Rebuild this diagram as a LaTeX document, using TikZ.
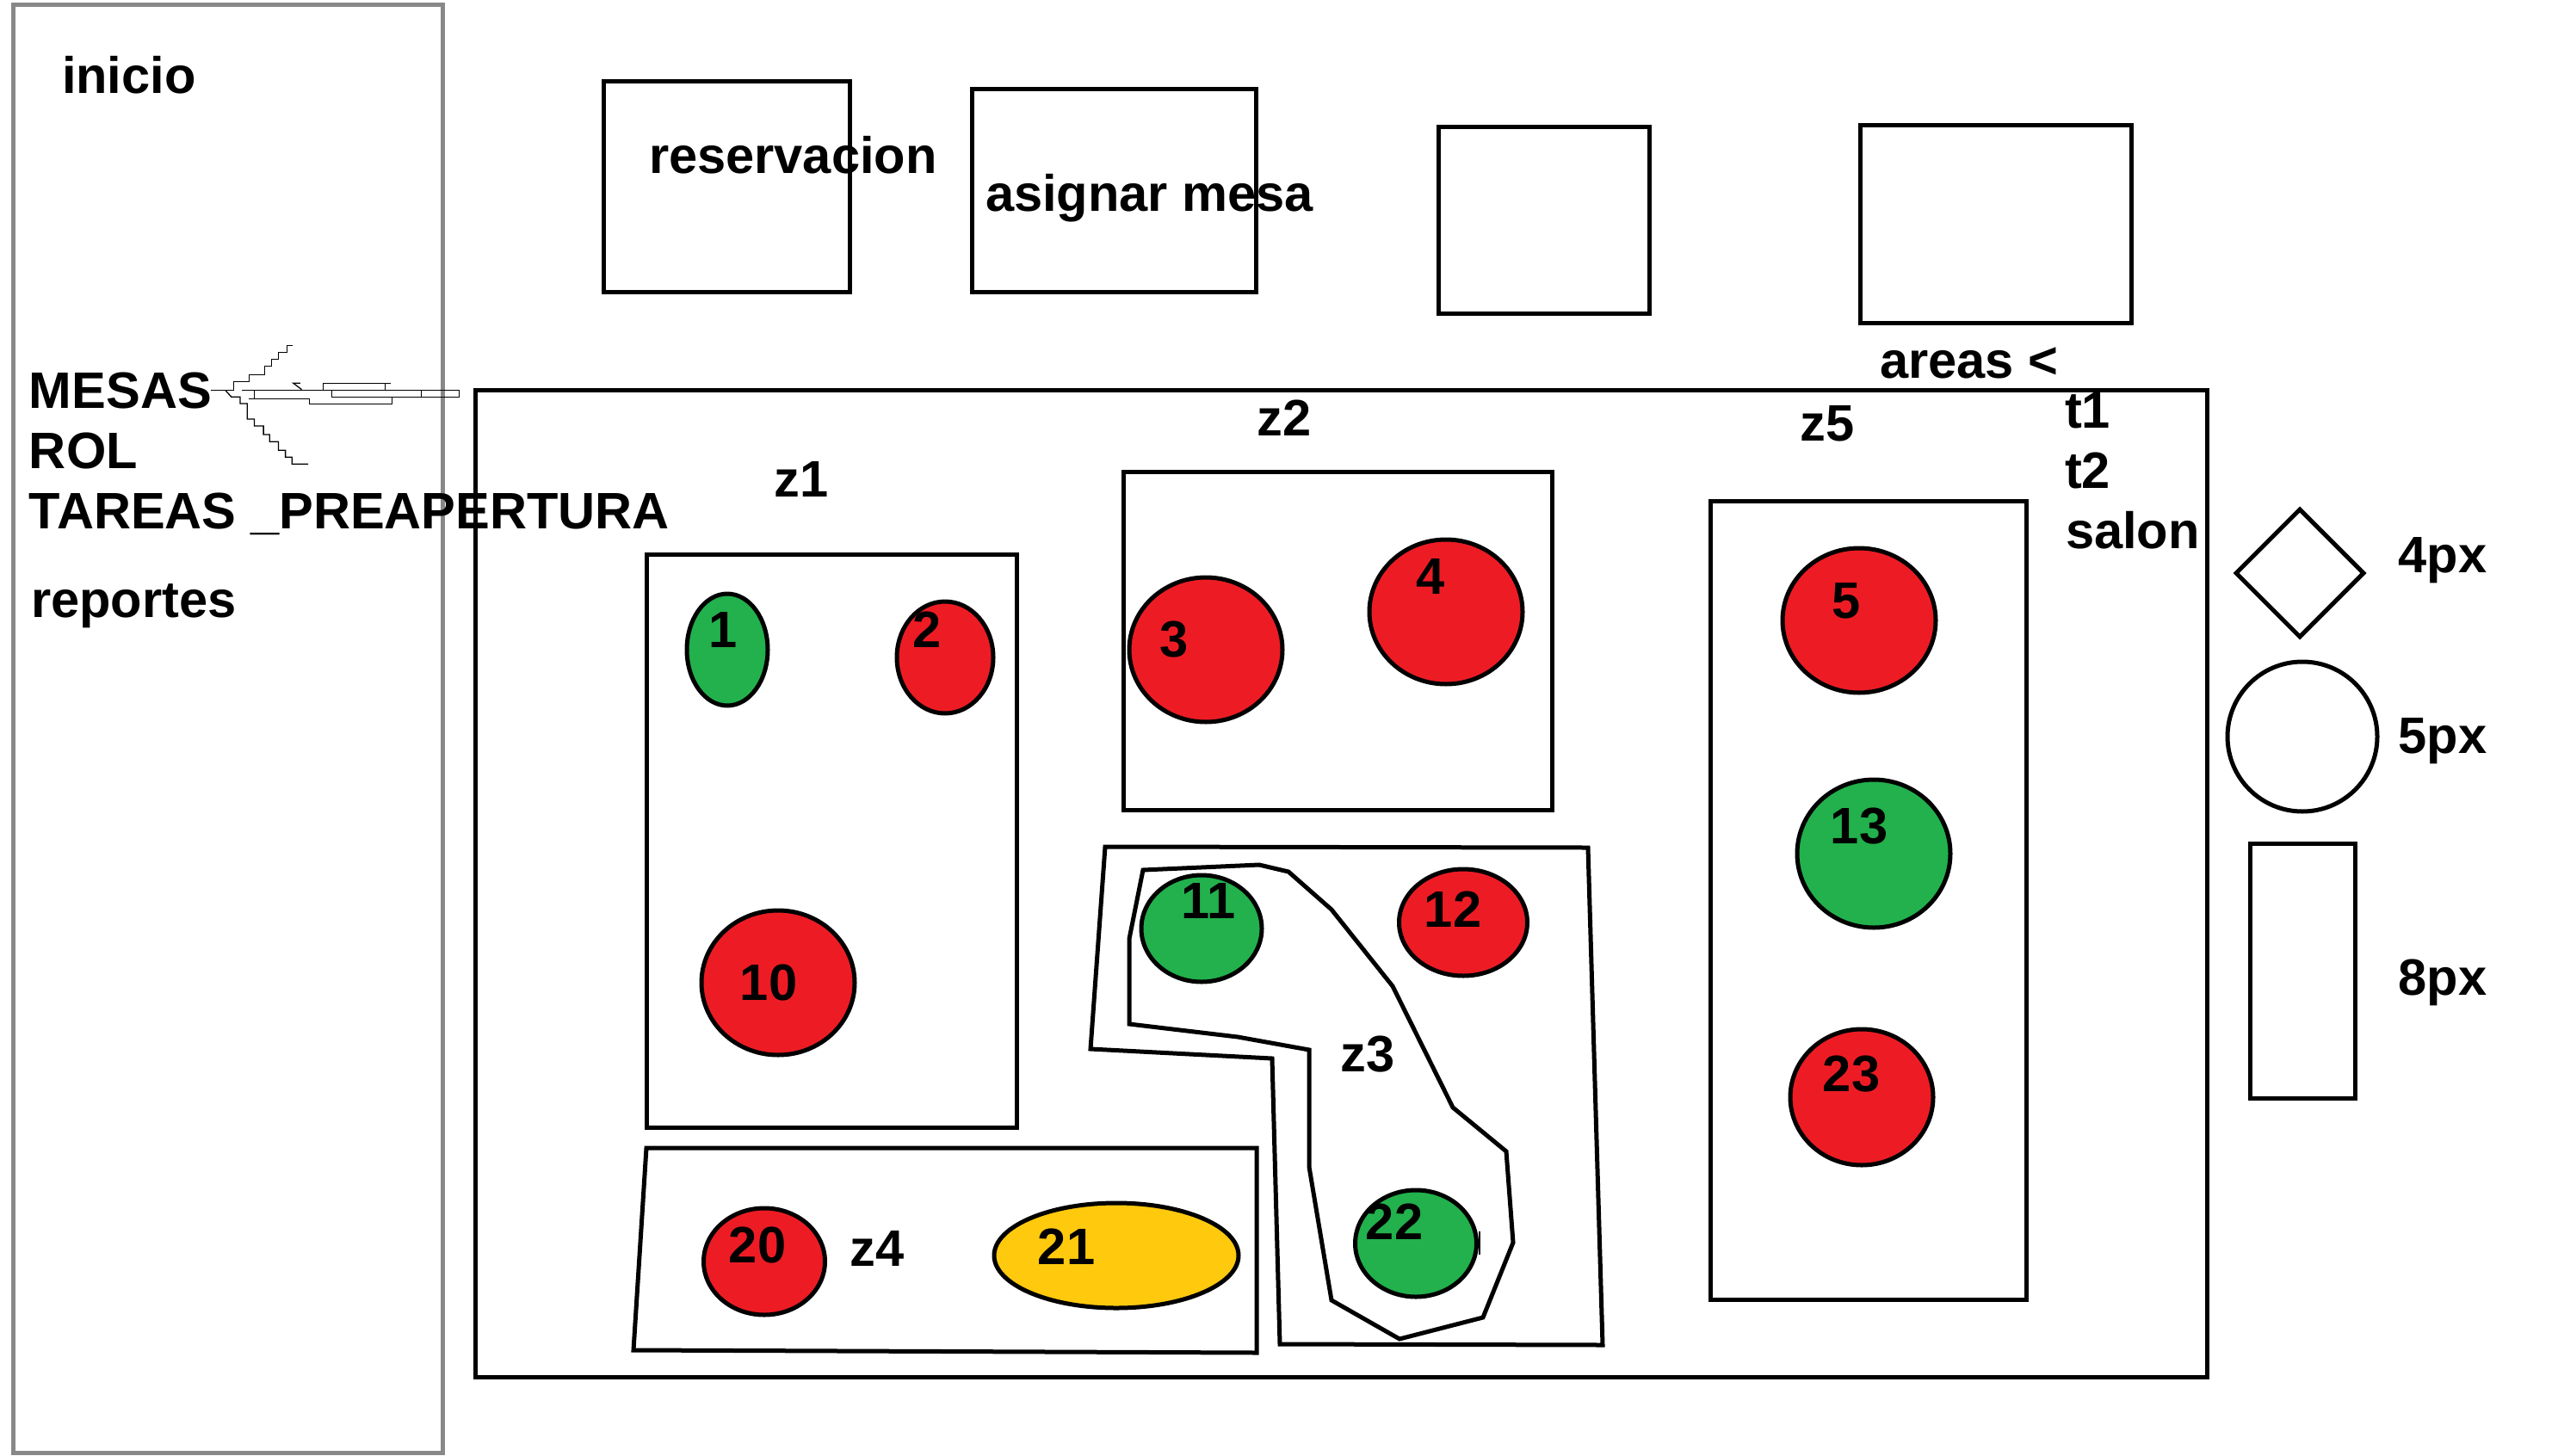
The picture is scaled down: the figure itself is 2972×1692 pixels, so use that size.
\documentclass[tikz,border=0pt]{standalone}
\usepackage{fontspec}
\setmainfont{Liberation Sans}
\usetikzlibrary{shapes.geometric}

\definecolor{mesared}{HTML}{ED1C24}
\definecolor{mesagreen}{HTML}{22B14C}
\definecolor{mesayellow}{HTML}{FFC90E}
\definecolor{framegrey}{HTML}{888888}

\tikzset{
    wall/.style={draw=black, line width=5pt, line join=miter},
    mesa/.style={ellipse, draw=black, line width=5pt, inner sep=0pt, outer sep=0pt},
    txt/.style={inner sep=0pt, outer sep=0pt, font=\fontsize{59.6}{70}\selectfont\bfseries, text=black},
    lefttxt/.style={txt, anchor=base west},
    midtxt/.style={txt, anchor=base},
    scribble/.style={draw=black, line width=1.3pt}
}

\begin{document}
\begin{tikzpicture}[x=1pt, y=-1pt]
\useasboundingbox (0,0) rectangle (2972,1692);

% menu panel and the top boxes
\draw[draw=framegrey, line width=5pt] (15,5) rectangle (514,1688);
\draw[wall] (701,94) rectangle (987,339);
\draw[wall] (1129,103) rectangle (1459,339);
\draw[wall] (1671,147) rectangle (1916,364);
\draw[wall] (2161,145) rectangle (2476,375);

% floor and zones
\draw[wall] (552,453) rectangle (2564,1600);
\draw[wall] (751,644) rectangle (1181,1310);
\draw[wall] (1305,548) rectangle (1803,941);
\draw[wall] (1987,582) rectangle (2354,1510);
\draw[wall] (751,1334) -- (1460,1334) -- (1460,1572) -- (736,1569) -- cycle;
\draw[wall] (1284,984) -- (1845,985) -- (1862,1563) -- (1487,1562) -- (1478,1230) -- (1267,1219) -- cycle;
\draw[wall] (1328,1011) -- (1463,1005) -- (1497,1013) -- (1547,1057) -- (1618,1146) -- (1688,1287)
    -- (1750,1338) -- (1758,1444) -- (1723,1531) -- (1626,1556) -- (1547,1511) -- (1521,1356)
    -- (1521,1220) -- (1438,1205) -- (1312,1190) -- (1312,1091) -- cycle;

% tables
\node[mesa, fill=mesagreen, minimum width=94pt, minimum height=130pt] (mesa1) at (845,755) {};
\node[mesa, fill=mesared, minimum width=112pt, minimum height=130pt] (mesa2) at (1098,764) {};
\node[mesa, fill=mesared, minimum width=178pt, minimum height=168pt] (mesa3) at (1401,755) {};
\node[mesa, fill=mesared, minimum width=178pt, minimum height=168pt] (mesa4) at (1680,711) {};
\node[mesa, fill=mesared, minimum width=178pt, minimum height=168pt] (mesa5) at (2160,721) {};
\node[mesa, fill=mesared, minimum width=178pt, minimum height=168pt] (mesa10) at (904,1142) {};
\node[mesa, fill=mesagreen, minimum width=140pt, minimum height=124pt] (mesa11) at (1396,1079) {};
\node[mesa, fill=mesared, minimum width=149pt, minimum height=124pt] (mesa12) at (1700,1072) {};
\node[mesa, fill=mesagreen, minimum width=178pt, minimum height=172pt] (mesa13) at (2177,992) {};
\node[mesa, fill=mesared, minimum width=141pt, minimum height=124pt] (mesa20) at (888,1466) {};
\node[mesa, fill=mesayellow, minimum width=284pt, minimum height=122pt] (mesa21) at (1297,1459) {};
\node[mesa, fill=mesagreen, minimum width=141pt, minimum height=124pt] (mesa22) at (1645,1445) {};
\node[mesa, fill=mesared, minimum width=166pt, minimum height=158pt] (mesa23) at (2163,1275) {};
\draw[scribble] (1719,1431) -- (1719,1458);

% legend shapes
\node[diamond, draw=black, line width=5pt, inner sep=0pt, minimum width=150pt, minimum height=150pt] (sizefour) at (2672,666) {};
\node[circle, draw=black, line width=5pt, inner sep=0pt, minimum size=174pt] (sizefive) at (2675,856) {};
\node[rectangle, draw=black, line width=5pt, inner sep=0pt, minimum width=122pt, minimum height=296pt] (sizeeight) at (2675,1128) {};

% the stray scrawl next to MESAS
\begin{scope}[x=0.5102pt, y=-0.3333pt, yshift=-360pt]
\draw[scribble] (480,280) -- (532,280) -- (532,250) -- (567,250) -- (567,226) -- (603,226) -- (603,196) -- (618,196)
    -- (618,172) -- (634,172) -- (634,148) -- (654,148) -- (654,124) -- (666,124);
\draw[scribble] (514,282) -- (527,304) -- (547,304) -- (547,327) -- (563,327) -- (563,381) -- (579,381) -- (579,405)
    -- (600,405) -- (600,435) -- (614,435) -- (614,460) -- (634,460) -- (634,490) -- (650,490) -- (650,514)
    -- (665,514) -- (665,538) -- (702,538);
\draw[scribble] (551,280) -- (1046,280) -- (1046,304) -- (756,304) -- (756,280);
\draw[scribble] (579,280) -- (579,310);
\draw[scribble] (566,310) -- (705,310) -- (705,328) -- (893,328) -- (893,304);
\draw[scribble] (736,280) -- (736,256) -- (889,256);
\draw[scribble] (877,256) -- (877,280);
\draw[scribble] (687,278) -- (668,256) -- (684,256);
\draw[scribble] (959,280) -- (959,304);
\end{scope}

% texts
\node[lefttxt] (inicio) at (72,108) {inicio};
\node[lefttxt] (mesas) at (34,474) {MESAS};
\node[lefttxt] (rol) at (34,544) {ROL};
\node[lefttxt] (tareas) at (34,614) {TAREAS \_PREAPERTURA};
\node[lefttxt] (reportes) at (36,717) {reportes};
\node[lefttxt] (reservacion) at (754,201) {reservacion};
\node[lefttxt] (asignar) at (1145,245) {asignar mesa};
\node[lefttxt] (areas) at (2184,439) {areas <};
\node[lefttxt] (tone) at (2399,497) {t1};
\node[lefttxt] (ttwo) at (2399,567) {t2};
\node[lefttxt] (salon) at (2400,637) {salon};
\node[midtxt] (zone1) at (931,577) {z1};
\node[midtxt] (zone2) at (1492,506) {z2};
\node[midtxt] (zone3) at (1589,1245) {z3};
\node[midtxt] (zone4) at (1019,1471) {z4};
\node[midtxt] (zone5) at (2123,512) {z5};
\node[midtxt] (labelfour) at (2838,665) {4px};
\node[midtxt] (labelfive) at (2838,875) {5px};
\node[midtxt] (labeleight) at (2838,1156) {8px};

% table numbers, they sit off centre
\foreach \n/\px/\py in {1/840/732, 2/1077/732, 3/1364/743, 4/1662/670, 5/2145/698, 10/893/1142, 11/1404/1047,
    12/1688/1057, 13/2160/960, 20/880/1447, 21/1239/1449, 22/1620/1420, 23/2151/1248}
    \node[txt] (num\n) at (\px,\py) {\n};
\end{tikzpicture}
\end{document}
